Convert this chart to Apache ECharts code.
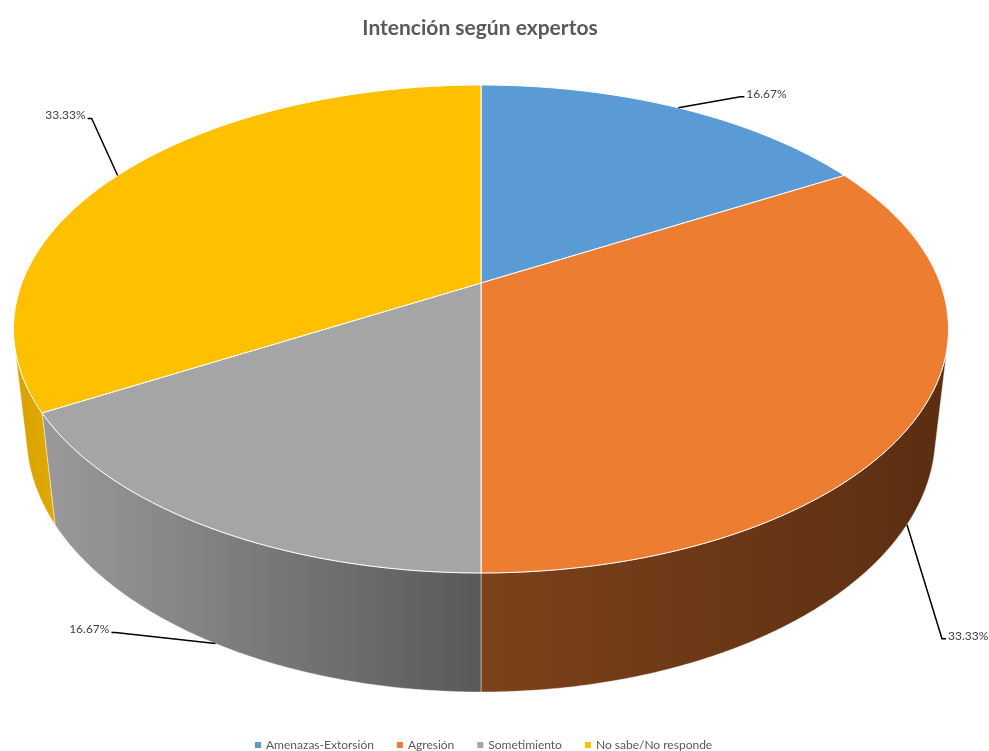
<!DOCTYPE html>
<html>
<head>
<meta charset="utf-8">
<title>Intención según expertos</title>
<script src="https://cdn.jsdelivr.net/npm/echarts@6/dist/echarts.min.js"></script>
<style>
  html, body { margin: 0; padding: 0; background: #ffffff; }
  #chart { width: 989px; height: 751px; }
</style>
</head>
<body>
<div id="chart"></div>
<script>
// ---- data ----
const categories = ['Amenazas-Extorsión', 'Agresión', 'Sometimiento', 'No sabe/No responde'];
const values = [1, 2, 1, 2];

// ---- styling ----
const topColors = ['#5B9BD5', '#ED7D31', '#A5A5A5', '#FFC000'];
const wallColors = [
  ['#4a7fb0', '#3b6790'],
  ['#7c421a', '#5b2e12'],
  ['#9a9a9a', '#595959'],
  ['#d9a200', '#e0a800']
];
// leader line elbow offsets from each slice's anchor point
const labelOffsets = [[62, -11], [35, 114], [-100, -11], [-26, -57]];

// ---- 3D pie projection (tilted disc seen in perspective) ----
const GEO = { cx: 481, cy: 283, A: 459.1, B: 235.3, k: 0.1885, depthY: 107.9, depthW: 0.0276 };

// t = 0 -> top face rim, t = 1 -> bottom rim; angle measured clockwise from 12 o'clock
function project(theta, t) {
  const u = Math.sin(theta);
  const v = -Math.cos(theta);
  const w = 1 - GEO.k * v + GEO.depthW * t;
  return [GEO.cx + GEO.A * u / w, GEO.cy + (GEO.B * v + GEO.depthY * t) / w];
}

// outer wall is facing the viewer when the rim tangent and the vertical edge turn clockwise
function wallVisible(theta) {
  const d = 0.001;
  const p0 = project(theta, 0);
  const p1 = project(theta + d, 0);
  const q0 = project(theta, 1);
  const tx = p1[0] - p0[0], ty = p1[1] - p0[1];
  const dx = q0[0] - p0[0], dy = q0[1] - p0[1];
  return tx * dy - ty * dx < 0;
}

const total = values.reduce((a, b) => a + b, 0);
const TWO_PI = Math.PI * 2;

function sliceStart(i) {
  let acc = 0;
  for (let j = 0; j < i; j++) acc += values[j];
  return acc / total * TWO_PI;
}

function makeRenderer(i) {
  return function (params, api) {
    const val = api.value(0);
    const start = sliceStart(i);
    const end = start + val / total * TWO_PI;
    const children = [];
    const steps = Math.max(8, Math.ceil((end - start) / (Math.PI / 360)));

    // outer wall (front-facing part only)
    const wallAngles = [];
    for (let s = 0; s <= steps; s++) {
      const th = start + (end - start) * s / steps;
      if (wallVisible(th)) wallAngles.push(th);
    }
    if (wallAngles.length > 1) {
      const topPts = wallAngles.map(th => project(th, 0));
      const botPts = wallAngles.map(th => project(th, 1)).reverse();
      const pts = topPts.concat(botPts);
      let minX = Infinity, maxX = -Infinity;
      pts.forEach(p => { minX = Math.min(minX, p[0]); maxX = Math.max(maxX, p[0]); });
      children.push({
        type: 'polygon',
        z2: 1,
        shape: { points: pts },
        style: {
          fill: new echarts.graphic.LinearGradient(minX, 0, maxX, 0, [
            { offset: 0, color: wallColors[i][0] },
            { offset: 1, color: wallColors[i][1] }
          ], true),
          stroke: 'rgba(255,255,255,0.55)',
          lineWidth: 0.8
        }
      });
    }

    // top face
    const face = [[GEO.cx, GEO.cy]];
    for (let s = 0; s <= steps; s++) {
      face.push(project(start + (end - start) * s / steps, 0));
    }
    children.push({
      type: 'polygon',
      z2: 10,
      shape: { points: face },
      style: { fill: topColors[i], stroke: '#ffffff', lineWidth: 1 }
    });

    // data label with leader line
    const mid = (start + end) / 2;
    const front = -Math.cos(mid) > 0;
    const anchor = project(mid, front ? 1 : 0);
    const off = labelOffsets[i];
    const elbow = [anchor[0] + off[0], anchor[1] + off[1]];
    const dir = off[0] >= 0 ? 1 : -1;
    const tick = [elbow[0] + dir * 4, elbow[1]];
    children.push({
      type: 'polyline',
      z2: 20,
      shape: { points: [anchor, elbow, tick] },
      style: { stroke: '#000000', lineWidth: 1.5, fill: null }
    });
    children.push({
      type: 'text',
      z2: 21,
      x: tick[0] + dir * 2,
      y: elbow[1] - 3,
      style: {
        text: (val / total * 100).toFixed(2) + '%',
        fill: '#404040',
        font: '12px Lato',
        align: dir > 0 ? 'left' : 'right',
        verticalAlign: 'middle'
      }
    });

    return { type: 'group', children: children };
  };
}

const chart = echarts.init(document.getElementById('chart'), null, { renderer: 'canvas' });

chart.setOption({
  backgroundColor: '#ffffff',
  animation: false,
  title: {
    text: 'Intención según expertos',
    left: 475,
    textAlign: 'center',
    top: 13,
    textStyle: { fontFamily: 'Lato', fontWeight: 'bold', fontSize: 21, color: '#595959' }
  },
  legend: {
    data: categories,
    bottom: 0,
    left: 250,
    padding: [3, 5, 0, 5],
    icon: 'rect',
    itemWidth: 6,
    itemHeight: 6,
    itemGap: 23,
    textStyle: { fontFamily: 'Lato', fontSize: 12, color: '#595959' }
  },
  series: categories.map((name, i) => ({
    type: 'custom',
    name: name,
    coordinateSystem: 'none',
    color: topColors[i],
    itemStyle: { color: topColors[i] },
    silent: true,
    renderItem: makeRenderer(i),
    data: [[values[i]]]
  }))
});
</script>
</body>
</html>
